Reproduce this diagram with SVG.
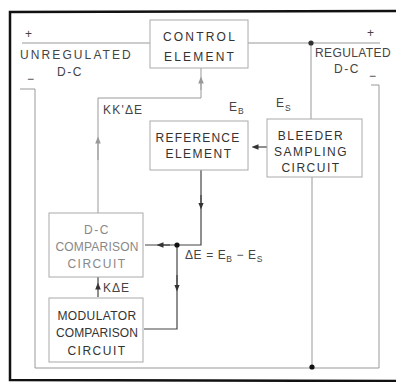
<svg xmlns="http://www.w3.org/2000/svg" width="396" height="382" viewBox="0 0 396 382">
<defs>
<style>
.frame{fill:none;stroke:#111;stroke-width:2.5}
.w{fill:none;stroke:#999;stroke-width:1}
.wd{fill:none;stroke:#444;stroke-width:1.2}
.box{fill:#fff;stroke:#aaa;stroke-width:1}
.t{font-family:"Liberation Sans",Arial,sans-serif;font-size:12px;fill:#333;letter-spacing:1.5px;text-anchor:middle}
.tg{fill:#888}
.l{font-family:"Liberation Sans",Arial,sans-serif;font-size:12px;fill:#444;letter-spacing:1px}
.s{font-size:8.5px}
</style>
<marker id="ah" viewBox="0 0 10 10" refX="5" refY="5" markerWidth="7" markerHeight="7" orient="auto-start-reverse" markerUnits="userSpaceOnUse"><path d="M0,1 L10,5 L0,9 z" fill="#333"/></marker>
<marker id="ahg" viewBox="0 0 10 10" refX="5" refY="5" markerWidth="7" markerHeight="7" orient="auto-start-reverse" markerUnits="userSpaceOnUse"><path d="M0,1 L10,5 L0,9 z" fill="#999"/></marker>
</defs>
<rect width="396" height="382" fill="#fff"/>
<path class="frame" d="M396,11 L10,12 L10,380 L396,381"/>
<g id="connectors">
<path class="w" d="M22,43 H150"/>
<path class="w" d="M248,43 H380"/>
<path class="w" d="M20,89 H35 V368 H379 V85 H371"/>
<path class="w" d="M311,43 V119"/>
<path class="w" d="M312,177 V367"/>
<path class="w" d="M98,213 V98 H201 V68"/>
<path class="w" d="M98,160 V140" marker-end="url(#ahg)"/>
<path class="w" d="M201,90 V80" marker-end="url(#ahg)"/>
<path class="wd" d="M267,147 H255" marker-end="url(#ah)"/>
<path class="wd" d="M201,170 V245 H145"/>
<path class="wd" d="M201,195 V206" marker-end="url(#ah)"/>
<path class="wd" d="M170,245 H160" marker-end="url(#ah)"/>
<path class="wd" d="M177,245 V329 H144"/>
<path class="wd" d="M177,275 V288" marker-end="url(#ah)"/>
<path class="wd" d="M98,297 V286" marker-end="url(#ah)"/>
<path class="wd" d="M98,286 V277"/>
<circle cx="311" cy="43" r="2.6" fill="#333"/>
<circle cx="177" cy="245" r="2.6" fill="#111"/>
<circle cx="312" cy="367" r="2.6" fill="#111"/>
</g>
<g id="control-element">
<rect class="box" x="150" y="20" width="98" height="48"/>
<text class="t" x="200" y="41" style="letter-spacing:2.2px">CONTROL</text>
<text class="t" x="200" y="61" style="letter-spacing:2.2px">ELEMENT</text>
</g>
<g id="reference-element">
<rect class="box" x="150" y="121" width="98" height="49"/>
<text class="t" x="198" y="142" style="letter-spacing:1.2px">REFERENCE</text>
<text class="t" x="199" y="158">ELEMENT</text>
</g>
<g id="bleeder-sampling-circuit">
<rect class="box" x="267" y="119" width="95" height="58"/>
<text class="t" x="311" y="140">BLEEDER</text>
<text class="t" x="311" y="156">SAMPLING</text>
<text class="t" x="311" y="172">CIRCUIT</text>
</g>
<g id="dc-comparison-circuit">
<rect class="box" x="49" y="213" width="94" height="64" stroke="#bbb"/>
<text class="t tg" x="97" y="234">D-C</text>
<text class="t tg" x="97" y="251" style="letter-spacing:0.2px">COMPARISON</text>
<text class="t tg" x="97" y="268">CIRCUIT</text>
</g>
<g id="modulator-comparison-circuit">
<rect class="box" x="49" y="298" width="94" height="64"/>
<text class="t" x="97" y="320" style="letter-spacing:0.4px">MODULATOR</text>
<text class="t" x="97" y="337" style="letter-spacing:0.1px">COMPARISON</text>
<text class="t" x="97" y="355">CIRCUIT</text>
</g>
<g id="labels">
<text class="l" x="25" y="38">+</text>
<text class="l" x="20" y="59" style="letter-spacing:2.1px">UNREGULATED</text>
<text class="l" x="57" y="76" style="letter-spacing:1.5px">D-C</text>
<text class="l" x="27" y="83">−</text>
<text class="l" x="367" y="37">+</text>
<text class="l" x="315" y="57" style="letter-spacing:0.4px">REGULATED</text>
<text class="l" x="334" y="73" style="letter-spacing:1.5px">D-C</text>
<text class="l" x="369" y="80">−</text>
<text class="l" x="103" y="114" style="letter-spacing:1.2px">KK'ΔE</text>
<text class="l" x="229" y="111">E<tspan class="s" dy="3">B</tspan></text>
<text class="l" x="276" y="107">E<tspan class="s" dy="4">S</tspan></text>
<text class="l" x="185" y="259" style="letter-spacing:0.6px">ΔE = E<tspan class="s" dy="3">B</tspan><tspan dy="-3"> − E</tspan><tspan class="s" dy="3">S</tspan></text>
<text class="l" x="103" y="292" style="letter-spacing:1px">KΔE</text>
</g>
</svg>
